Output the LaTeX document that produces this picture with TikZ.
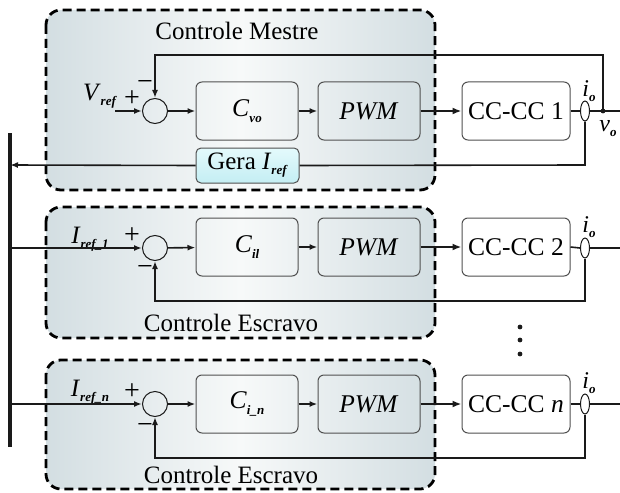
\documentclass[tikz,border=0pt]{standalone}
\usepackage{fontspec}
\setmainfont{Liberation Serif}
\usetikzlibrary{arrows.meta,shapes.geometric}
\definecolor{bgdark}{HTML}{D3DEE2}
\definecolor{bglight}{HTML}{F7F9F9}
\definecolor{cyanl}{HTML}{E4FAFC}
\definecolor{cyand}{HTML}{C4EEF3}
\definecolor{ln}{HTML}{1A1A1A}
\definecolor{bordr}{HTML}{505050}
\newcommand\lbl[3]{\fontsize{#3}{#3}\selectfont\textit{#1}\raisebox{-0.45ex}{\fontsize{13}{13}\selectfont\textit{\textbf{#2}}}}
\tikzset{
  ctrlbox/.style={draw=black, line width=2.8pt, dash pattern=on 9pt off 5pt, rounded corners=15pt,
    left color=bgdark, right color=bgdark, middle color=bglight},
  blk/.style={draw=bordr, line width=1pt, rounded corners=6pt, minimum width=102pt, minimum height=58pt, font=\fontsize{25.5}{25.5}\selectfont},
  ccblk/.style={blk, fill=white, minimum width=108pt},
  gerablk/.style={draw=bordr, line width=1pt, rounded corners=5pt, minimum width=103pt, minimum height=35pt, top color=cyanl, bottom color=cyand, font=\fontsize{25}{25}\selectfont},
  sumc/.style={circle, draw=ln, line width=1pt, minimum size=25pt, inner sep=0pt},
  sens/.style={ellipse, draw=ln, line width=1pt, minimum width=9pt, minimum height=20pt, inner sep=0pt},
  wire/.style={draw=ln, line width=1.6pt},
  arr/.style={wire, -{Latex[length=8pt,width=6pt]}},
  thickarr/.style={draw=ln, line width=2.4pt, -{Latex[length=9pt,width=7pt]}},
  txt/.style={font=\fontsize{25}{25}\selectfont, inner sep=0pt},
  sgn/.style={font=\fontsize{28}{28}\selectfont, inner sep=0pt},
}
\begin{document}
\begin{tikzpicture}[x=1pt,y=-1pt]
\useasboundingbox (0,0) rectangle (620,492);
% control boxes
\draw[ctrlbox] (46,10) rectangle (435,190);
\draw[ctrlbox] (46,207) rectangle (435,338);
\draw[ctrlbox] (46,360) rectangle (435,489);
% bus
\draw[draw=ln, line width=3.8pt] (10,133) -- (10,447);
\coordinate (bus0) at (10,165);
\coordinate (bus1) at (10,248);
\coordinate (bus2) at (10,404);

%%%%% Master
\node[txt] (tm) at (237,31) {Controle Mestre};
\node[sumc] (s1) at (155,111) {};
\node[blk] (c1) at (247,111) {\lbl{C}{vo}{25.5}};
\node[blk] (p1) at (369,111) {\textit{PWM}};
\node[ccblk] (cc1) at (516,111) {CC-CC 1};
\node[sens] (e1) at (585,111) {};
\coordinate (o1) at (620,111);
\coordinate (vo) at (603,111);
\coordinate (vin) at (115,111);
\node[gerablk] (g1) at (247.5,165.5) {Gera \lbl{I}{ref}{25}};
\node[txt] (lvref) at (100,96) {\lbl{V}{ref}{25}};
\node[sgn] (pl1) at (132,99) {+};
\node[sgn] (mi1) at (145,86) {\textminus};
\node[txt] (lio1) at (589,91) {\lbl{i}{o}{24}};
\node[txt] (lvo) at (608,129) {\lbl{v}{o}{24}};
\draw[arr] (vin) -- (s1.west);
\draw[arr] (s1) -- (c1);
\draw[arr] (c1) -- (p1);
\draw[thickarr] (p1) -- (cc1);
\draw[wire] (cc1.east) -- (e1.west);
\draw[wire] (e1.east) -- (o1);
\fill[ln] (vo) circle (2.4pt);
\draw[arr] (vo) -- (603,55) -- (155,55) -- (s1.north);
\draw[wire] (e1.south) -- (585,165) -- (g1.east);
\draw[arr] (g1.west) -- (bus0);

%%%%% Slave 1
\node[sumc] (s2) at (155,248) {};
\node[blk] (c2) at (247,247) {\lbl{C}{il}{25.5}};
\node[blk] (p2) at (369,247) {\textit{PWM}};
\node[ccblk] (cc2) at (516,247) {CC-CC 2};
\node[sens] (e2) at (585,248) {};
\coordinate (o2) at (620,248);
\node[txt] (lir1) at (90,239) {\lbl{I}{ref\_1}{25}};
\node[sgn] (pl2) at (132,236) {+};
\node[sgn] (mi2) at (145,271) {\textminus};
\node[txt] (lio2) at (589,227) {\lbl{i}{o}{24}};
\node[txt] (te1) at (231,323) {Controle Escravo};
\draw[arr] (bus1) -- (s2.west);
\draw[arr] (s2) -- (c2);
\draw[arr] (c2) -- (p2);
\draw[thickarr] (p2) -- (cc2);
\draw[wire] (cc2.east) -- (e2.west);
\draw[wire] (e2.east) -- (o2);
\draw[arr] (e2.south) -- (585,301) -- (155,301) -- (s2.south);

%%%%% dots
\fill[ln] (520,327) circle (2.4pt);
\fill[ln] (520,340) circle (2.4pt);
\fill[ln] (520,354) circle (2.4pt);

%%%%% Slave n
\node[sumc] (s3) at (155,404) {};
\node[blk] (c3) at (247,404) {\lbl{C}{i\_n}{25.5}};
\node[blk] (p3) at (369,404) {\textit{PWM}};
\node[ccblk] (cc3) at (516,404) {CC-CC \textit{n}};
\node[sens] (e3) at (585,404) {};
\coordinate (o3) at (620,404);
\node[txt] (lirn) at (90,392) {\lbl{I}{ref\_n}{25}};
\node[sgn] (pl3) at (132,392) {+};
\node[sgn] (mi3) at (145,428) {\textminus};
\node[txt] (lio3) at (589,383) {\lbl{i}{o}{24}};
\node[txt] (te2) at (231,475) {Controle Escravo};
\draw[arr] (bus2) -- (s3.west);
\draw[arr] (s3) -- (c3);
\draw[arr] (c3) -- (p3);
\draw[thickarr] (p3) -- (cc3);
\draw[wire] (cc3.east) -- (e3.west);
\draw[wire] (e3.east) -- (o3);
\draw[arr] (e3.south) -- (585,458) -- (155,458) -- (s3.south);
\end{tikzpicture}
\end{document}
